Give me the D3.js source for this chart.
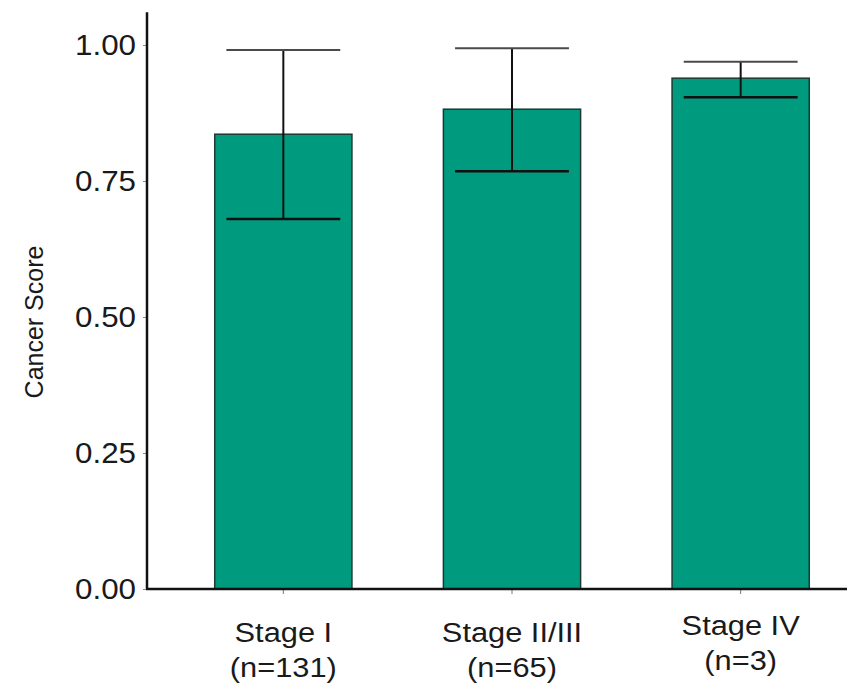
<!DOCTYPE html>
<html>
<head>
<meta charset="utf-8">
<script src="https://cdn.jsdelivr.net/npm/d3@7"></script>
<style>
  html, body { margin: 0; padding: 0; background: #fff; }
  svg { display: block; font-family: "Liberation Sans", Arial, sans-serif; }
</style>
</head>
<body>
<svg id="chart" width="847" height="684"></svg>
<script>
// Mean cancer score by tumour stage, with upper/lower error limits
const stages = ["Stage I", "Stage II/III", "Stage IV"];
const counts = ["(n=131)", "(n=65)", "(n=3)"];
const meanScore = [0.836, 0.882, 0.939];
const upperLimit = [0.991, 0.994, 0.969];
const lowerLimit = [0.680, 0.768, 0.904];
const yTicks = [0, 0.25, 0.5, 0.75, 1.0];

const rows = stages.map((s, i) => ({
  stage: s, n: counts[i], mean: meanScore[i], hi: upperLimit[i], lo: lowerLimit[i]
}));

const svg = d3.select("#chart");
const axisX = 147, baseY = 589, rightX = 847;

const y = d3.scaleLinear().domain([0, 1.06]).range([baseY, baseY - 544 * 1.06]);
const x = d3.scaleBand().domain(stages).range([169, 855]).paddingInner(0.4).paddingOuter(0.2);

const barFill = "#009b7e";

// bars
svg.append("g").selectAll("rect").data(rows).join("rect")
  .attr("x", d => x(d.stage))
  .attr("y", d => y(d.mean))
  .attr("width", x.bandwidth())
  .attr("height", d => y(0) - y(d.mean))
  .attr("fill", barFill)
  .attr("stroke", "#1c3a31")
  .attr("stroke-width", 1.5);

// error bars
const capHalf = x.bandwidth() * 0.415;
const eb = svg.append("g").selectAll("g").data(rows).join("g")
  .attr("transform", d => `translate(${x(d.stage) + x.bandwidth() / 2},0)`);
eb.append("line")
  .attr("x1", 0).attr("x2", 0)
  .attr("y1", d => y(d.lo)).attr("y2", d => y(d.hi))
  .attr("stroke", "#111").attr("stroke-width", 2);
eb.append("line")
  .attr("x1", -capHalf).attr("x2", capHalf)
  .attr("y1", d => y(d.hi)).attr("y2", d => y(d.hi))
  .attr("stroke", "#4a4a4a").attr("stroke-width", 2);
eb.append("line")
  .attr("x1", -capHalf).attr("x2", capHalf)
  .attr("y1", d => y(d.lo)).attr("y2", d => y(d.lo))
  .attr("stroke", "#111").attr("stroke-width", 2.5);

// y axis
const yAxis = svg.append("g")
  .attr("transform", `translate(${axisX},0)`)
  .call(d3.axisLeft(y).tickValues(yTicks).tickFormat(d3.format(".2f")).tickSize(4).tickPadding(8));
yAxis.select(".domain").remove();
yAxis.selectAll(".tick line").attr("stroke", "#888");
yAxis.selectAll(".tick text")
  .attr("font-size", 29).attr("fill", "#1a1a1a")
  .attr("font-family", "'Liberation Sans', Arial, sans-serif")
  .attr("transform", "translate(2,0) scale(1.08,1)")
  .attr("dy", "0.34em");
yAxis.append("line")
  .attr("x1", 0).attr("x2", 0).attr("y1", y.range()[1]).attr("y2", baseY)
  .attr("stroke", "#111").attr("stroke-width", 2.5);

// x axis
const xAxis = svg.append("g")
  .attr("transform", `translate(0,${baseY})`)
  .call(d3.axisBottom(x).tickSize(5).tickFormat(""));
xAxis.select(".domain").remove();
xAxis.selectAll(".tick line").attr("stroke", "#777");
xAxis.append("line")
  .attr("x1", axisX - 1).attr("x2", rightX).attr("y1", 0).attr("y2", 0)
  .attr("stroke", "#111").attr("stroke-width", 2.5);

// category labels (two lines each)
const labelLift = [0, 0, 7];
const lab = svg.append("g").selectAll("text").data(rows).join("text")
  .attr("text-anchor", "middle")
  .attr("font-size", 28).attr("fill", "#1a1a1a")
  .attr("transform", (d, i) => `translate(${x(d.stage) + x.bandwidth() / 2},${642 - labelLift[i]}) scale(1.1,1)`);
lab.append("tspan").attr("x", 0).attr("y", 0).text(d => d.stage);
lab.append("tspan").attr("x", 0).attr("y", 35).text(d => d.n);

// y axis title
svg.append("text")
  .attr("transform", "translate(43,322) rotate(-90)")
  .attr("text-anchor", "middle")
  .attr("font-size", 25).attr("fill", "#1a1a1a")
  .text("Cancer Score");
</script>
</body>
</html>
